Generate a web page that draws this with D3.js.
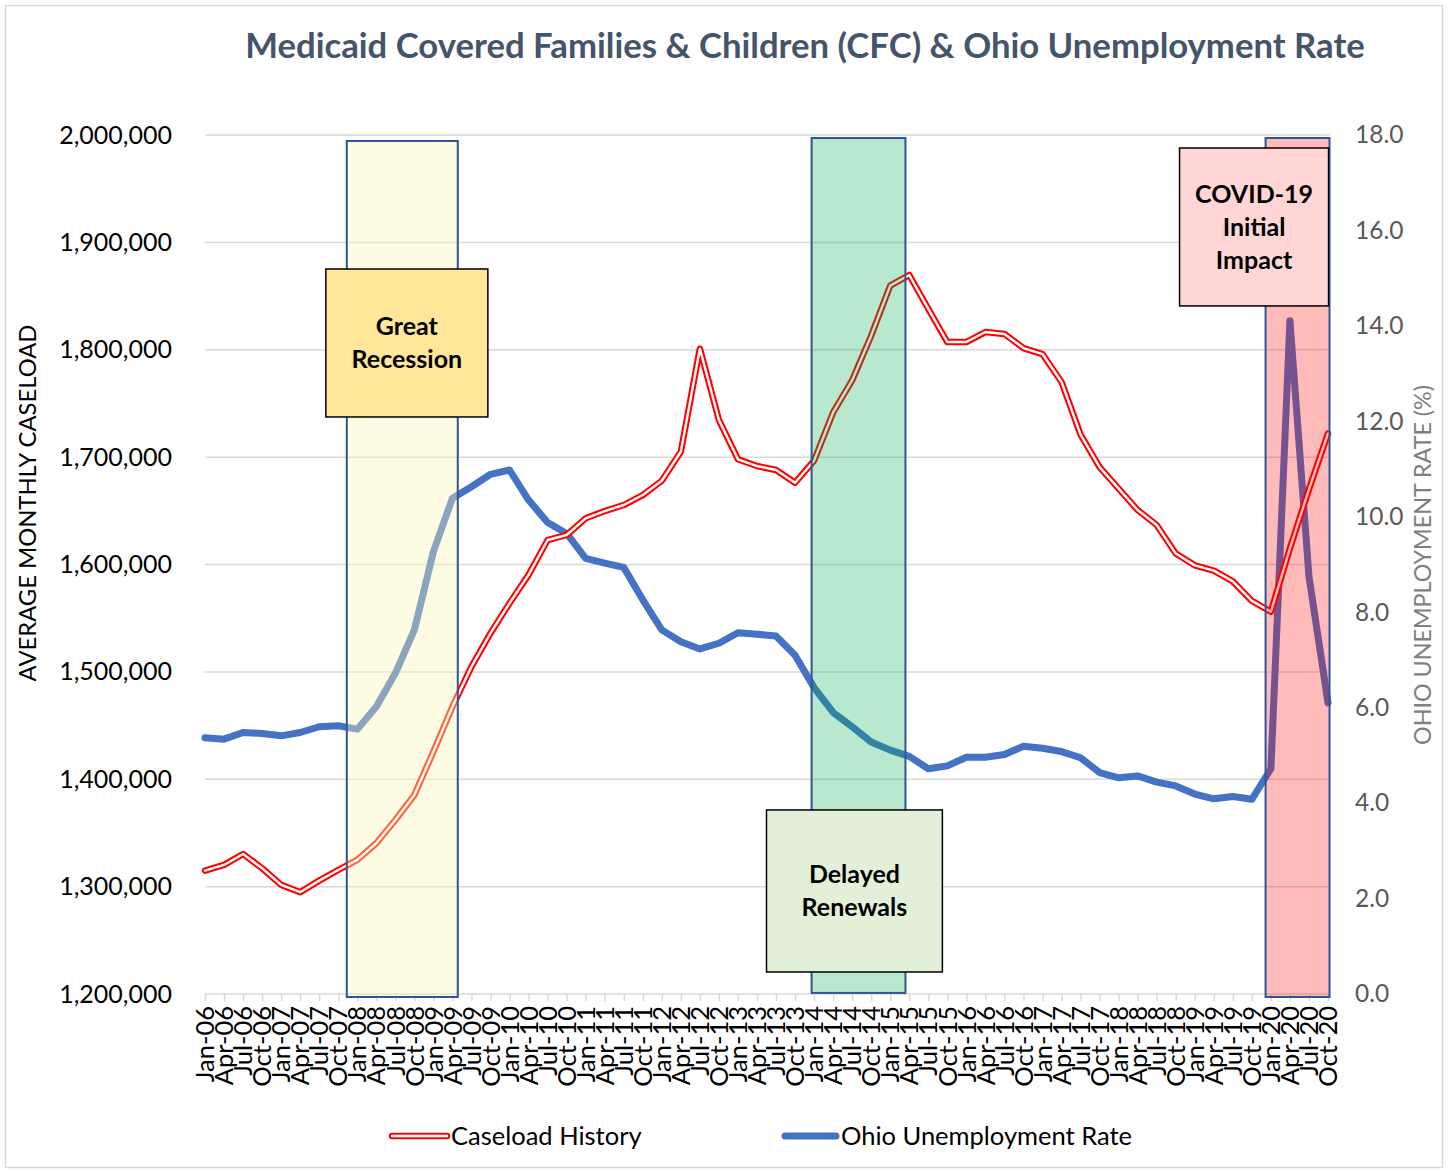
<!DOCTYPE html>
<html>
<head>
<meta charset="utf-8">
<script src="https://cdn.jsdelivr.net/npm/d3@7/dist/d3.min.js"></script>
<style>
  html, body { margin: 0; padding: 0; background: #fff; }
  svg { display: block; }
  text { font-family: Lato, "Open Sans", "DejaVu Sans", sans-serif; }
</style>
</head>
<body>
<svg id="chart" width="1448" height="1171"></svg>
<script>
// ---------------- DATA ----------------
const months = ["Jan", "Apr", "Jul", "Oct"];
const years = ["06","07","08","09","10","11","12","13","14","15","16","17","18","19","20"];
const categories = years.flatMap(y => months.map(m => m + "-" + y));

const caseload = [1314900, 1320200, 1330400, 1317100, 1301600, 1294800, 1305600, 1315500, 1324900, 1340400,
  1362100, 1385400, 1425700, 1467600, 1504900, 1536000, 1563900, 1590300, 1622800, 1627500,
  1643000, 1649800, 1655400, 1664700, 1678000, 1705000, 1801000, 1734600, 1698000, 1691700,
  1688000, 1676200, 1696700, 1741600, 1771500, 1813100, 1859700, 1869600, 1838000, 1807200,
  1807200, 1816500, 1814700, 1801600, 1796000, 1770000, 1721000, 1690700, 1670700, 1650700,
  1636800, 1610200, 1599200, 1594300, 1584300, 1566100, 1556000, 1615000, 1670000, 1722000];

const unemployment = [5.37, 5.34, 5.48, 5.46, 5.41, 5.48, 5.60, 5.62, 5.55, 6.02,
  6.72, 7.63, 9.27, 10.39, 10.63, 10.89, 10.98, 10.35, 9.88, 9.65,
  9.13, 9.03, 8.94, 8.26, 7.63, 7.38, 7.23, 7.35, 7.57, 7.54,
  7.50, 7.10, 6.42, 5.90, 5.60, 5.28, 5.11, 4.98, 4.72, 4.78,
  4.96, 4.96, 5.02, 5.19, 5.15, 5.08, 4.95, 4.64, 4.53, 4.57,
  4.44, 4.36, 4.19, 4.09, 4.14, 4.08, 4.72, 14.11, 8.75, 6.10];

const leftTicks = [1200000, 1300000, 1400000, 1500000, 1600000, 1700000, 1800000, 1900000, 2000000];
const rightTicks = [0, 2, 4, 6, 8, 10, 12, 14, 16, 18];

// shaded periods: start/end category index, top/bottom caseload
const periods = [
  { name: "recession", x0: 7.45, x1: 13.28, top: 1994400, bottom: 1197200 },
  { name: "renewals",  x0: 31.87, x1: 36.8, top: 1997200, bottom: 1201000 },
  { name: "covid",     x0: 55.72, x1: 59.08, top: 1997200, bottom: 1197200 }
];
// annotation label boxes: start/end category index, top/bottom caseload
const labels = [
  { lines: ["Great", "Recession"], x0: 6.35, x1: 14.86, top: 1875200, bottom: 1737400 },
  { lines: ["Delayed", "Renewals"], x0: 29.5, x1: 38.74, top: 1371400, bottom: 1220500 },
  { lines: ["COVID-19", "Initial", "Impact"], x0: 51.2, x1: 59.03, top: 1987900, bottom: 1840800 }
];

const title = "Medicaid Covered Families & Children (CFC) & Ohio Unemployment Rate";
const leftTitle = "AVERAGE MONTHLY CASELOAD";
const rightTitle = "OHIO UNEMPLOYMENT RATE (%)";
const seriesNames = ["Caseload History", "Ohio Unemployment Rate"];

// ---------------- STYLES ----------------
const periodStyle = {
  recession: { fill: "rgba(252,246,183,0.39)" },
  renewals:  { fill: "rgba(0,176,80,0.28)" },
  covid:     { fill: "rgba(255,0,0,0.27)" }
};
const labelFills = ["#FFE699", "#E2F0D9", "#FFD5D5"];

// ---------------- LAYOUT ----------------
const svg = d3.select("#chart");
const plot = { left: 205, right: 1328, top: 135, bottom: 994 };

const x = d3.scalePoint().domain(categories).range([plot.left, plot.right]);
const xi = d3.scaleLinear().domain([0, categories.length - 1]).range([plot.left, plot.right]);
const yL = d3.scaleLinear().domain([1200000, 2000000]).range([plot.bottom, plot.top]);
const yR = d3.scaleLinear().domain([0, 18]).range([plot.bottom, plot.top]);

function fitWidth(sel, target) {
  const node = sel.node();
  const fs = parseFloat(sel.attr("font-size"));
  const w = node.getComputedTextLength();
  if (w > 0) sel.attr("font-size", (fs * target / w).toFixed(2));
}

// outer border
svg.append("rect").attr("x", 5.5).attr("y", 5.5).attr("width", 1437).attr("height", 1162)
  .attr("fill", "#fff").attr("stroke", "#D9D9D9").attr("stroke-width", 1.5);

// title
const t = svg.append("text").attr("x", 805).attr("y", 58).attr("text-anchor", "middle")
  .attr("font-size", 32).attr("font-weight", 700).attr("fill", "#44546A").text(title);
fitWidth(t, 1120);

// gridlines
svg.append("g").selectAll("line").data(leftTicks.slice(1)).join("line")
  .attr("x1", plot.left).attr("x2", plot.right + 2)
  .attr("y1", d => yL(d)).attr("y2", d => yL(d))
  .attr("stroke", "#D9D9D9").attr("stroke-width", 1.5);

// bottom axis with ticks
const xAxis = d3.axisBottom(x).tickSize(7).tickSizeOuter(0).tickFormat("");
const gx = svg.append("g").attr("transform", `translate(0,${plot.bottom})`).call(xAxis);
gx.select(".domain").attr("stroke", "#D9D9D9").attr("stroke-width", 1.5)
  .attr("d", `M${plot.left},0H${plot.right + 2}`);
gx.selectAll(".tick line").attr("stroke", "#D9D9D9").attr("stroke-width", 1.5);

// x labels rotated
svg.append("g").selectAll("text").data(categories).join("text")
  .attr("transform", d => `translate(${x(d)},1006) rotate(-90)`)
  .attr("text-anchor", "end").attr("dy", "0.36em")
  .attr("font-size", 25.5).attr("fill", "#000").text(d => d);

// left axis labels
const yAxisL = d3.axisLeft(yL).tickValues(leftTicks).tickSize(0).tickFormat(d3.format(","));
const gl = svg.append("g").attr("transform", `translate(172,0)`).call(yAxisL);
gl.select(".domain").remove();
gl.selectAll("text").attr("font-size", 25).attr("fill", "#000")
  .attr("font-family", "Lato, 'Open Sans', sans-serif").attr("x", 0);

// right axis labels
const yAxisR = d3.axisRight(yR).tickValues(rightTicks).tickSize(0).tickFormat(d3.format(".1f"));
const gr = svg.append("g").attr("transform", `translate(1355,0)`).call(yAxisR);
gr.select(".domain").remove();
gr.selectAll("text").attr("font-size", 24.5).attr("fill", "#595959")
  .attr("font-family", "Lato, 'Open Sans', sans-serif").attr("x", 0);

// axis titles
const lt = svg.append("text").attr("transform", "translate(27,503) rotate(-90)")
  .attr("text-anchor", "middle").attr("dy", "0.36em").attr("font-size", 22).attr("fill", "#000")
  .text(leftTitle);
fitWidth(lt, 357);
const rt = svg.append("text").attr("transform", "translate(1423,565) rotate(-90)")
  .attr("text-anchor", "middle").attr("dy", "0.36em").attr("font-size", 22).attr("fill", "#7F7F7F")
  .text(rightTitle);
fitWidth(rt, 360);

// lines
const caseLine = d3.line().x((d, i) => x(categories[i])).y(d => yL(d));
const rateLine = d3.line().x((d, i) => x(categories[i])).y(d => yR(d));

svg.append("path").datum(unemployment).attr("d", rateLine)
  .attr("fill", "none").attr("stroke", "#4472C4").attr("stroke-width", 7)
  .attr("stroke-linejoin", "round").attr("stroke-linecap", "round");

svg.append("path").datum(caseload).attr("d", caseLine)
  .attr("fill", "none").attr("stroke", "#FF0000").attr("stroke-width", 6.5)
  .attr("stroke-linejoin", "round").attr("stroke-linecap", "round");
svg.append("path").datum(caseload).attr("d", caseLine)
  .attr("fill", "none").attr("stroke", "#FFFFFF").attr("stroke-width", 2.4)
  .attr("stroke-linejoin", "round").attr("stroke-linecap", "round");

// shaded periods (overlay)
svg.append("g").selectAll("rect").data(periods).join("rect")
  .attr("x", d => xi(d.x0)).attr("width", d => xi(d.x1) - xi(d.x0))
  .attr("y", d => yL(d.top)).attr("height", d => yL(d.bottom) - yL(d.top))
  .attr("fill", d => periodStyle[d.name].fill)
  .attr("stroke", "#2F5597").attr("stroke-width", 2);

// annotation boxes
const lb = svg.append("g").selectAll("g").data(labels).join("g");
lb.append("rect")
  .attr("x", d => xi(d.x0)).attr("width", d => xi(d.x1) - xi(d.x0))
  .attr("y", d => yL(d.top)).attr("height", d => yL(d.bottom) - yL(d.top))
  .attr("fill", (d, i) => labelFills[i]).attr("stroke", "#000").attr("stroke-width", 1.5);
lb.each(function(d) {
  const g = d3.select(this);
  const cx = (xi(d.x0) + xi(d.x1)) / 2;
  const cy = (yL(d.top) + yL(d.bottom)) / 2;
  const lh = 33;
  d.lines.forEach((s, k) => {
    g.append("text").attr("x", cx)
      .attr("y", cy + (k - (d.lines.length - 1) / 2) * lh)
      .attr("dy", "0.36em").attr("text-anchor", "middle")
      .attr("font-size", 25).attr("font-weight", 700).attr("fill", "#000").text(s);
  });
});

// legend
const legY = 1136;
const leg = svg.append("g");
leg.append("line").attr("x1", 392).attr("x2", 447).attr("y1", legY).attr("y2", legY)
  .attr("stroke", "#FF0000").attr("stroke-width", 6.5).attr("stroke-linecap", "round");
leg.append("line").attr("x1", 392).attr("x2", 447).attr("y1", legY).attr("y2", legY)
  .attr("stroke", "#FFFFFF").attr("stroke-width", 2.4).attr("stroke-linecap", "round");
leg.append("text").attr("x", 451).attr("y", legY).attr("dy", "0.36em")
  .attr("font-size", 25.5).attr("fill", "#000").text(seriesNames[0]);
leg.append("line").attr("x1", 785).attr("x2", 836).attr("y1", legY).attr("y2", legY)
  .attr("stroke", "#4472C4").attr("stroke-width", 7).attr("stroke-linecap", "round");
leg.append("text").attr("x", 841).attr("y", legY).attr("dy", "0.36em")
  .attr("font-size", 25.5).attr("fill", "#000").text(seriesNames[1]);
</script>
</body>
</html>
